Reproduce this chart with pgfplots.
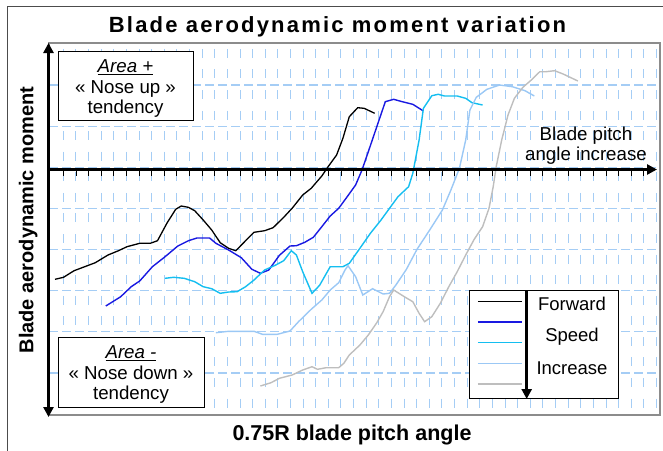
\documentclass[border=0pt]{standalone}
\usepackage{fontspec}
\setmainfont{Liberation Sans}
\newfontfamily\titlefont{Liberation Sans}[LetterSpace=10]
\usepackage{pgfplots}
\pgfplotsset{compat=1.18}
\usetikzlibrary{arrows.meta}
\definecolor{cblack}{RGB}{0,0,0}
\definecolor{cblue}{RGB}{25,25,225}
\definecolor{ccyan}{RGB}{20,190,240}
\definecolor{clight}{RGB}{155,200,245}
\definecolor{cgray}{RGB}{190,190,190}
\definecolor{gridblue}{RGB}{165,205,245}
\begin{document}
\begin{tikzpicture}
\path[use as bounding box] (0,0) rectangle (663bp,-451bp);
\begin{axis}[
  at={(49bp,-415bp)}, anchor=south west,
  scale only axis, width=611bp, height=372bp,
  xmin=49, xmax=660, ymin=43, ymax=415, y dir=reverse,
  xtick={63.3,75.92,...,660}, ytick={85,126.14,...,380},
  xticklabels={}, yticklabels={},
  major tick length=0pt,
  grid=major,
  x grid style={gridblue, line width=0.9bp, dash pattern=on 9bp off 11.57bp, dash phase=14.7bp},
  y grid style={gridblue, line width=1.1bp, dash pattern=on 9bp off 4bp},
  axis line style={draw=black!45, line width=1.2bp},
  legend style={at={(axis cs:477,290.6)}, anchor=north west, draw=none, fill=none,
    inner sep=0pt, row sep=0pt, nodes={inner sep=0pt, minimum height=20.75bp}},
  legend image code/.code={\draw[#1] (0bp,0bp) -- (44bp,0bp);},
  no markers,
]
\draw[black, line width=0.9bp, fill=white] (axis cs:58,51) rectangle (axis cs:193,120);
\draw[black, line width=0.9bp, fill=white] (axis cs:58,337) rectangle (axis cs:204,407);
\draw[black, line width=0.9bp, fill=white] (axis cs:469,290) rectangle (axis cs:618,398);

\addplot[cblack, line width=1.3bp] coordinates {
(55.0,279.3) (63.5,277.3) (74.1,270.7) (84.7,266.7) (95.3,262.7) (108,255) (118.5,250.7)
(127,246.7) (139.7,243.3) (150.3,243.3) (157.5,240.7) (167.2,222.7) (175.7,209.3) (181.2,206)
(188.4,207.3) (194.7,210.7) (203.2,220) (211.7,230) (220.2,242.7) (228.6,248.3) (235.8,250.7)
(245.6,240.7) (254,232.3) (264.6,230.7) (273.1,227.7) (283.7,217.3) (292.1,208.3) (302.7,195)
(311.2,188.3) (321.8,176) (328.1,166.7) (336.6,155) (342.9,138.3) (349.3,116.7) (357.7,107.7)
(364.1,108.3) (374.7,113.3)};
\addlegendentry{\mbox{}}
\addplot[cblue, line width=1.4bp] coordinates {
(105.8,306) (120.7,296.7) (131.2,286.7) (139.7,281) (152.4,266.7) (165.1,256.7) (177.8,246)
(188.4,240.7) (196.9,238) (209.6,238) (215.9,243.3) (228.6,250) (241.3,257.7) (251.9,269.3)
(260.4,273.3) (268.8,270) (279.4,255.3) (290,246) (296.4,245.7) (304.8,242.3) (313.3,237.3)
(321.8,226.7) (330.2,216) (338.7,208.3) (347.2,196.7) (355.6,185) (362,170) (368.3,151.7)
(376.8,126.7) (385.3,101.7) (393.7,99.3) (402.2,101.7) (412.8,104.3) (423.4,111)};
\addlegendentry{\mbox{}}
\addplot[ccyan, line width=1.4bp] coordinates {
(165.1,278.3) (173.6,277.3) (184.2,278.3) (194.7,281.7) (203.2,286.7) (211.7,288.7) (220.2,293.3)
(228.6,292) (237.1,291.7) (245.6,286.7) (254,280) (264.6,270) (275.2,265.3) (283.7,260.7)
(291.3,250.7) (296.4,255) (302.7,271.7) (312,293.3) (319.6,285.3) (330.2,266.7) (342.9,266.7)
(349.3,263.3) (359.9,248.3) (370.4,233.3) (381,220) (389.5,208.3) (398,196.7) (408.6,186.7)
(412.8,173.3) (419.1,140) (423.4,108.3) (431.8,95.7) (438.2,94.3) (444.5,96) (457.2,96)
(465.7,98.3) (472,102.7) (482.6,105)};
\addlegendentry{\mbox{}}
\addplot[clight, line width=1.4bp] coordinates {
(215.9,332.7) (228.6,331.3) (254,331.3) (262.5,334.3) (277.3,334.3) (290,331) (298.5,321.7)
(311.2,309.3) (321.8,300) (330.2,290) (338.7,282.7) (345,270) (348,265.7) (355.6,276.7)
(362.8,295) (372.6,288.7) (383.1,294) (389.5,293.3) (395.9,285) (406.4,269.3) (417,249.3)
(429.7,230) (442.4,210) (450.9,190) (459.4,168.3) (465.7,140) (469.9,110) (476.3,97.3)
(486.9,89.3) (499.6,85) (512.3,86.7) (525,90.7) (534.3,96)};
\addlegendentry{\mbox{}}
\addplot[cgray, line width=1.4bp] coordinates {
(260.4,386) (271,382.7) (279.4,378.3) (292.1,375) (302.7,370) (312,366.7) (317.5,369.3)
(326,367.7) (338.7,367.7) (343.8,363.3) (349.3,355) (359.9,345) (368.3,335) (376.8,322.7)
(383.1,311.7) (389.5,296.7) (393.7,290) (404.3,296.7) (412.8,301.7) (419.1,313.3) (424.6,321.7)
(431.8,316.7) (440.3,303.3) (448.8,286.7) (457.2,271.7) (465.7,255) (474.2,239.3) (482.6,226.7)
(489,208.3) (493.2,186.7) (496.2,166.7) (501.7,140) (508,115) (514.4,98.3) (522.9,87.3)
(531.3,80) (539.8,71.7) (546.1,71.7) (554.6,70.7) (563.1,74) (577.9,81)};
\addlegendentry{\mbox{}}
\end{axis}

\node[rotate=90, anchor=base, font=\bfseries\fontsize{20bp}{24bp}\selectfont] at (33.3bp,-220bp) {Blade aerodynamic moment};

\begin{scope}[x=1bp,y=-1bp]
% outer border
\draw[black!70, line width=1bp] (7,452) -- (7,6.5) -- (664,6.5);
% thick axes
\draw[line width=3.5bp, -{Triangle[length=10bp,width=10bp]}] (48.5,169.5) -- (657,169.5);
\draw[line width=3.5bp, {Triangle[length=10bp,width=10bp]}-{Triangle[length=10bp,width=10bp]}] (48.5,417) -- (48.5,43);
\foreach \k in {0,...,46} {\draw[line width=0.8bp] ({63.3+12.62*\k},170) -- ({63.3+12.62*\k},175.5);}
% legend arrow
\draw[line width=3.5bp, -{Triangle[length=10bp,width=10bp]}] (526.7,290) -- (526.7,399);
% texts
\node[anchor=base, font=\titlefont\bfseries\fontsize{22bp}{26bp}\selectfont] at (337.5,32.3) {Blade aerodynamic moment variation};
\node[anchor=base, font=\bfseries\fontsize{21.5bp}{25bp}\selectfont] at (352,440) {0.75R blade pitch angle};
\begin{scope}[every node/.style={anchor=base, font=\fontsize{18.7bp}{22bp}\selectfont, inner sep=0pt}]
\node at (586,140) {Blade pitch};
\node at (586,160) {angle increase};
\node at (125.5,72.7) {\underline{\textit{Area +}}};
\node at (125.5,93.3) {« Nose up »};
\node at (125.5,113.6) {tendency};
\node at (131,358.7) {\underline{\textit{Area -}}};
\node at (131,379) {« Nose down »};
\node at (131,399) {tendency};
\end{scope}
\begin{scope}[every node/.style={anchor=base, font=\fontsize{18.5bp}{22bp}\selectfont, inner sep=0pt}]
\node at (572,310.3) {Forward};
\node at (572,341.7) {Speed};
\node at (572,374.3) {Increase};
\end{scope}
\end{scope}
\end{tikzpicture}
\end{document}
